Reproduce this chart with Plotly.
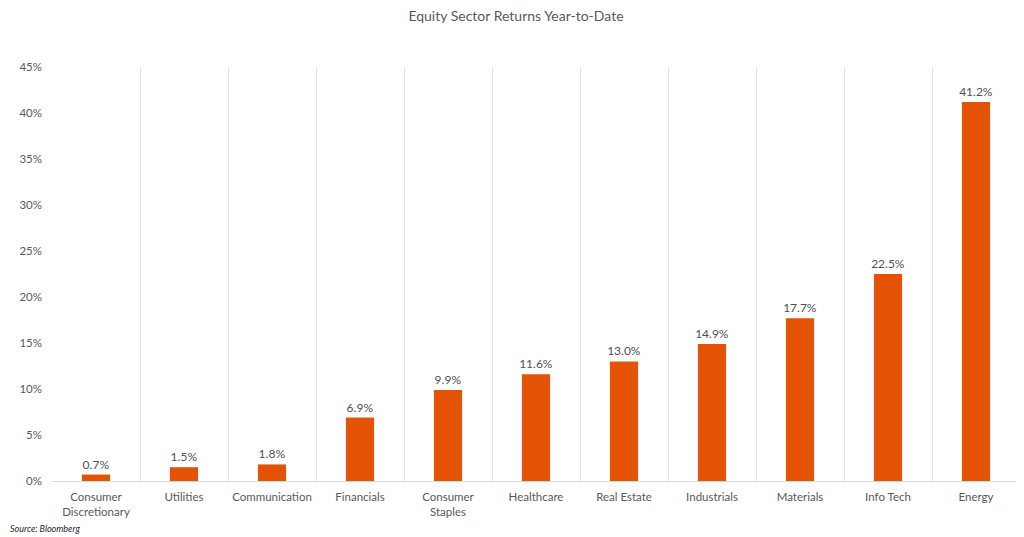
import plotly.graph_objects as go

sectors = ["Consumer<br>Discretionary", "Utilities", "Communication", "Financials",
           "Consumer<br>Staples", "Healthcare", "Real Estate", "Industrials",
           "Materials", "Info Tech", "Energy"]
returns = [0.7, 1.5, 1.8, 6.9, 9.9, 11.6, 13.0, 14.9, 17.7, 22.5, 41.2]
y_ticks = [0, 5, 10, 15, 20, 25, 30, 35, 40, 45]

FONT = "Lato, 'Open Sans', sans-serif"
GRAY = "#595959"

W, H = 1016, 529
ML, MR, MT, MB = 44, 4, 59, 56
PW, PH = W - ML - MR, H - MT - MB

fig = go.Figure(go.Bar(
    x=sectors, y=returns,
    marker=dict(color="#E35205", line=dict(width=0)),
    width=0.32,
    text=[f"{v:.1f}%" for v in returns],
    textposition="outside",
    constraintext="none",
    textfont=dict(family=FONT, size=12, color="#505050"),
    cliponaxis=False,
))

fig.update_layout(
    width=W, height=H,
    margin=dict(l=ML, r=MR, t=MT, b=MB, autoexpand=False),
    paper_bgcolor="white", plot_bgcolor="white",
    title=dict(text="Equity Sector Returns Year-to-Date", x=0.5, xanchor="center",
               yref="container", y=1 - 8 / H, yanchor="middle",
               font=dict(family=FONT, size=14, color=GRAY)),
    showlegend=False,
    font=dict(family=FONT, color=GRAY),
)
fig.update_xaxes(
    type="category", tickson="boundaries", showgrid=True, gridcolor="#E3E3E3", gridwidth=1,
    ticks="", showline=True, linecolor="#D9D9D9", linewidth=1,
    ticklabelstandoff=5,
    tickfont=dict(family=FONT, size=11.5, color=GRAY),
)
fig.update_yaxes(
    range=[0, 45], tickvals=y_ticks, ticktext=[f"{t}%" for t in y_ticks],
    showgrid=False, zeroline=False, showline=False, ticks="",
    ticklabelstandoff=9,
    tickfont=dict(family=FONT, size=11.5, color=GRAY),
)
fig.add_annotation(text="<i>Source: Bloomberg</i>", xref="paper", yref="paper",
                   x=-ML / PW, y=-47 / PH, xanchor="left", yanchor="middle", showarrow=False,
                   font=dict(family=FONT, size=9, color="#262626"))

fig.write_html("out.html")
